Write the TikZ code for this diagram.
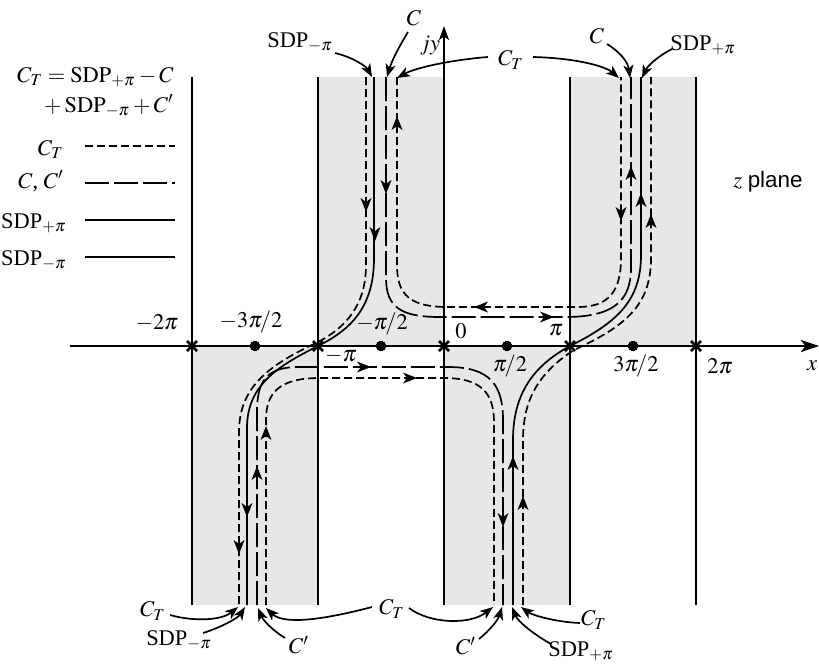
\documentclass[tikz,border=0pt]{standalone}
\usepackage{mathptmx}
\usepackage{fontspec}
\setmainfont{Liberation Serif}
\newfontfamily\planefont{Liberation Sans}
\usetikzlibrary{arrows.meta}
\definecolor{stripfill}{HTML}{E6E7E8}
\newcommand\mhead[2]{\fill[shift={(#1)},rotate=#2] (7,0) -- (-7,5.5) -- (-3,0) -- (-7,-5.5) -- cycle;}
\newcommand\xmk[1]{\draw[line width=1.3pt,shift={(#1)}] (-5,-5) -- (5,5) (-5,5) -- (5,-5);}
\begin{document}
\begin{tikzpicture}[x=0.5pt,y=-0.5pt,
  strip/.style={line width=0.85pt},
  sdp/.style={line width=0.85pt},
  ctpath/.style={line width=0.85pt,dash pattern=on 4pt off 2pt},
  cpath/.style={line width=0.85pt,dash pattern=on 12pt off 2.5pt},
  annot/.style={line width=0.85pt,-{Stealth[length=6.5pt,width=5pt,inset=1.8pt]}},
  lbl/.style={font=\fontsize{11.2}{13}\selectfont,inner sep=0pt}]
\useasboundingbox (0,0) rectangle (819,666);
% shading
\fill[stripfill] (318,77) rectangle (444,346);
\fill[stripfill] (570,77) rectangle (696,346);
\fill[stripfill] (192,346) rectangle (318,605);
\fill[stripfill] (444,346) rectangle (570,605);
% strip lines
\foreach \xx in {192,318,570,696} \draw[strip] (\xx,77) -- (\xx,605);
\draw[line width=1pt,-{Stealth[length=7pt,width=5pt,inset=1.8pt]}] (444,605) -- (444,26);
% curves
\draw[sdp] (374,77) -- (374,258) .. controls (374,308) and (350,330) .. (318,346) .. controls (278,366) and (247,385) .. (247,428) -- (247,605);
\draw[ctpath] (366,77) -- (366,265) .. controls (366,305) and (346,328) .. (316,343) .. controls (272,364) and (239,385) .. (239,432) -- (239,605);
\draw[cpath] (386,77) -- (386,278) .. controls (386,308) and (402,317) .. (440,317) -- (565,317) .. controls (612,317) and (631,302) .. (631,268) -- (631,77);
\draw[ctpath] (397,77) -- (397,265) .. controls (397,295) and (410,307) .. (448,307) -- (578,307) .. controls (608,307) and (621,292) .. (621,258) -- (621,77);
\draw[sdp] (513,605) -- (513,440) .. controls (513,392) and (535,365) .. (570,346) .. controls (618,322) and (641,300) .. (641,255) -- (641,77);
\draw[ctpath] (523,605) -- (523,440) .. controls (523,398) and (540,372) .. (574,350) .. controls (626,326) and (651,305) .. (651,258) -- (651,77);
\draw[cpath] (257,605) -- (257,412) .. controls (257,382) and (266,367) .. (298,367) -- (448,367) .. controls (490,367) and (503,385) .. (503,420) -- (503,605);
\draw[ctpath] (266,605) -- (266,420) .. controls (266,392) and (280,378) .. (320,378) -- (444,378) .. controls (480,378) and (494,392) .. (494,422) -- (494,605);
% mid-path arrowheads (90 = up, -90 = down)
\mhead{366,205}{-90}
\mhead{375,234}{-90}
\mhead{386,187}{-90}
\mhead{397,123}{90}
\mhead{481,307}{180}
\mhead{547,317}{0}
\mhead{621,214}{-90}
\mhead{631,173}{90}
\mhead{641,200}{90}
\mhead{651,221}{90}
\mhead{239,547}{-90}
\mhead{247,510}{-90}
\mhead{257,473}{90}
\mhead{266,433}{90}
\mhead{364,367}{0}
\mhead{410,378}{0}
\mhead{503,520}{-90}
\mhead{513,463}{90}
\mhead{523,503}{90}
% x axis
\draw[line width=1.35pt,-{Stealth[length=9pt,width=6pt,inset=2.2pt]}] (70,346) -- (819,346);
\foreach \xx in {192,318,444,570,696} \xmk{\xx,346}
\foreach \xx in {255,381,507,633} \fill (\xx,346) circle[radius=5];
% axis labels
\node[lbl] (lm2pi) at (157,323) {$-2\pi$};
\node[lbl] (lm3pi2) at (251,322) {$-3\pi\!/2$};
\node[lbl] (lmpi2) at (382,324) {$-\pi\!/2$};
\node[lbl] (lzero) at (461,331) {$0$};
\node[lbl] (lpi) at (556,330) {$\pi$};
\node[lbl] (lmpi) at (341,356) {$-\pi$};
\node[lbl] (lpi2) at (510,366) {$\pi\!/2$};
\node[lbl] (l3pi2) at (636,366) {$3\pi\!/2$};
\node[lbl] (l2pi) at (720,366) {$2\pi$};
\node[lbl] (lx) at (812,366) {$x$};
\node[lbl] (ljy) at (430,46) {$jy$};
\node[lbl] (lz) at (768,182) {$z$ {\planefont plane}};
% legend
\node[lbl,anchor=base east] (leg1) at (174,82) {$C_T = \mathrm{SDP}_{+\pi} - C$};
\node[lbl,anchor=base east] (leg2) at (174,112) {${}+\mathrm{SDP}_{-\pi} + C'$};
\node[lbl,anchor=base east] (legct) at (64,155) {$C_T$};
\node[lbl,anchor=base east] (legc) at (64,188) {$C$, $C'$};
\node[lbl,anchor=base east] (legsp) at (67,228) {SDP$_{+\pi}$};
\node[lbl,anchor=base east] (legsm) at (67,265) {SDP$_{-\pi}$};
\draw[ctpath] (85,146) -- (175,146);
\draw[cpath] (85,183) -- (175,183);
\draw[sdp] (85,220) -- (175,220);
\draw[sdp] (85,257) -- (175,257);
% top labels and arrows
\node[lbl] (tC) at (414,18) {$C$};
\node[lbl] (tSm) at (300,42) {SDP$_{-\pi}$};
\node[lbl] (tCT) at (511,60) {$C_T$};
\node[lbl] (tC2) at (597,36) {$C$};
\node[lbl,anchor=west] (tSp) at (670,45) {SDP$_{+\pi}$};
\coordinate (eC) at (387,77);
\coordinate (eSm) at (372,77);
\coordinate (eCT1) at (397,78);
\coordinate (eCT2) at (619,78);
\coordinate (eC2) at (630,78);
\coordinate (eSp) at (642,78);
\draw[annot] (408,32) .. controls (400,45) and (392,60) .. (eC);
\draw[annot] (335,53) .. controls (352,57) and (366,66) .. (eSm);
\draw[annot] (488,57) .. controls (450,60) and (415,68) .. (eCT1);
\draw[annot] (533,57) .. controls (575,58) and (605,66) .. (eCT2);
\draw[annot] (607,44) .. controls (620,52) and (628,62) .. (eC2);
\draw[annot] (672,49) .. controls (660,55) and (648,65) .. (eSp);
% bottom labels and arrows
\node[lbl] (bCT1) at (153,611) {$C_T$};
\node[lbl] (bSm) at (179,640) {SDP$_{-\pi}$};
\node[lbl] (bC1) at (299,645) {$C'$};
\node[lbl] (bCT2) at (392,609) {$C_T$};
\node[lbl] (bC2) at (466,646) {$C'$};
\node[lbl] (bSp) at (581,651) {SDP$_{+\pi}$};
\node[lbl] (bCT3) at (594,620) {$C_T$};
\coordinate (fCT1) at (238,607);
\coordinate (fSm) at (245,607);
\coordinate (fC1) at (258,608);
\coordinate (fCT2a) at (266,608);
\coordinate (fCT2b) at (493,607);
\coordinate (fC2) at (502,607);
\coordinate (fSp) at (512,607);
\coordinate (fCT3) at (521,607);
\draw[annot] (170,615) .. controls (195,622) and (222,620) .. (fCT1);
\draw[annot] (203,633) .. controls (222,627) and (238,618) .. (fSm);
\draw[annot] (285,638) .. controls (272,630) and (263,620) .. (fC1);
\draw[annot] (372,607) .. controls (330,618) and (285,626) .. (fCT2a);
\draw[annot] (409,608) .. controls (430,624) and (470,625) .. (fCT2b);
\draw[annot] (479,639) .. controls (490,630) and (498,620) .. (fC2);
\draw[annot] (551,644) .. controls (535,635) and (518,622) .. (fSp);
\draw[annot] (580,623) .. controls (555,622) and (532,615) .. (fCT3);
\end{tikzpicture}
\end{document}
